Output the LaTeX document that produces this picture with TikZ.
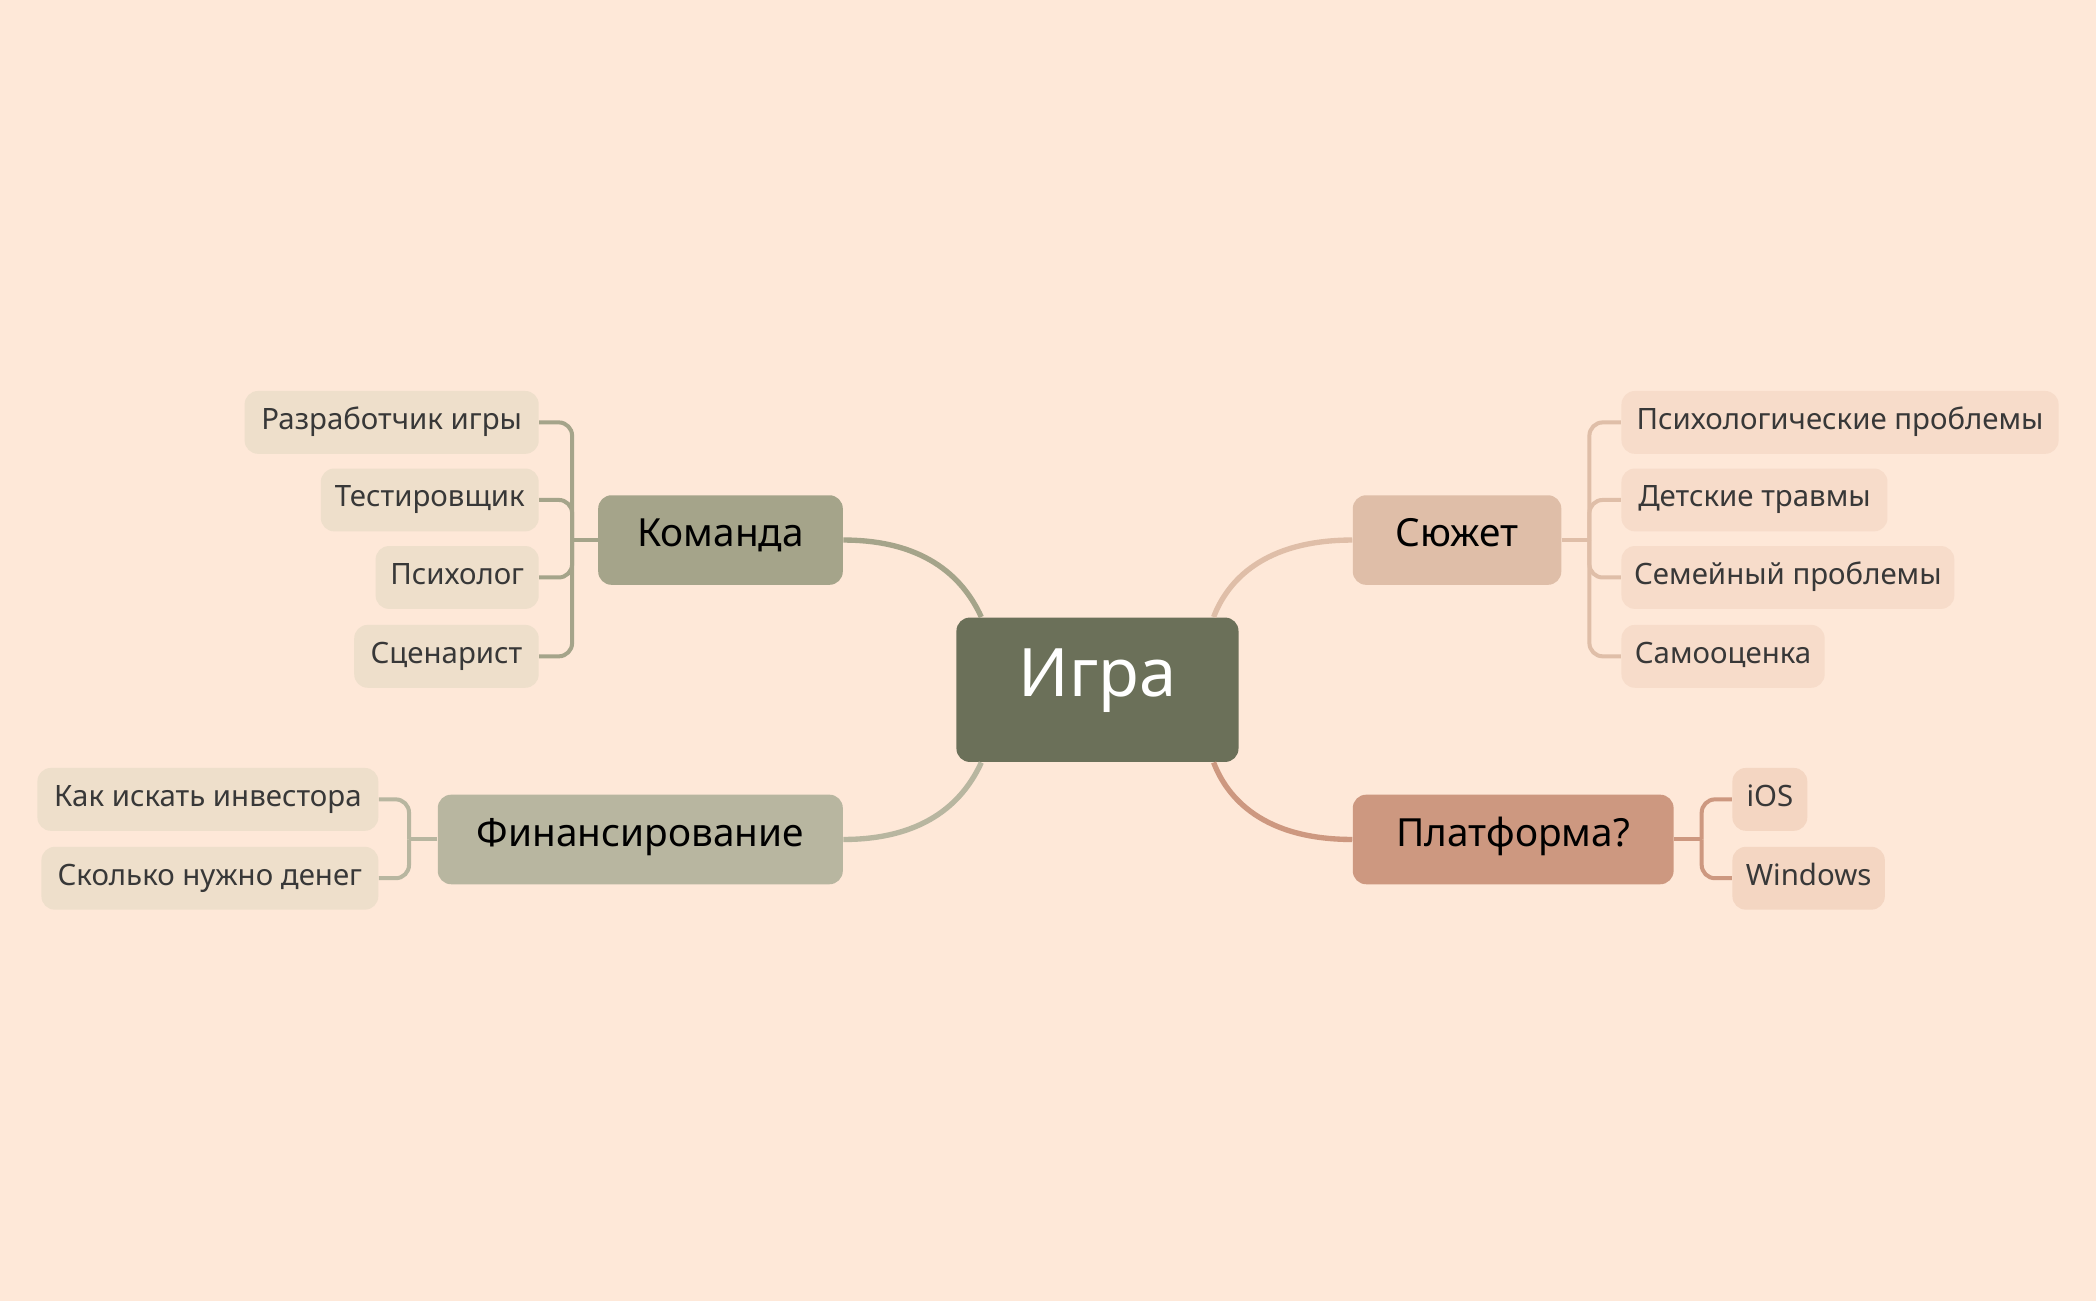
\documentclass[tikz,border=0pt]{standalone}
\usepackage{fontspec}
\setmainfont{Noto Sans}
\begin{document}
\begin{tikzpicture}[x=0.5pt,y=-0.5pt,
 box/.style={rounded corners=5pt,inner sep=0pt,text height=0.72em,text depth=0.2em},
 leaf/.style={box,minimum height=23.5pt,font=\fontsize{11}{13}\selectfont,text=black!78},
 br/.style={box,minimum height=33.5pt,font=\fontsize{14.5}{17}\selectfont\bfseries},
 con/.style={line width=2pt},
 bk/.style={line width=1.5pt,rounded corners=5pt}]
\definecolor{bg}{HTML}{FEE8D8}
\definecolor{cI}{HTML}{6B7059}
\definecolor{cK}{HTML}{A5A48A}
\definecolor{cF}{HTML}{B8B6A0}
\definecolor{cS}{HTML}{DFBEA8}
\definecolor{cP}{HTML}{CD9880}
\definecolor{lK}{HTML}{EEDFCB}
\definecolor{lS}{HTML}{F7DCCA}
\definecolor{lP}{HTML}{F4D6C2}
\fill[bg] (0,0) rectangle (1568,973);
\useasboundingbox (0,0) rectangle (1568,973);
\node[box,fill=cI,minimum width=105.5pt,minimum height=54pt,text=white,font=\fontsize{25}{28}\selectfont\bfseries] (I) at (821,516) {Игра};
\node[br,fill=cK,minimum width=91.5pt] (K) at (539,404) {Команда};
\node[br,fill=cF,minimum width=151.5pt] (F) at (479,628) {Финансирование};
\node[br,fill=cS,minimum width=78pt] (S) at (1090,404) {Сюжет};
\node[br,fill=cP,minimum width=120pt] (P) at (1132,628) {Платформа?};
% leaves
\node[leaf,fill=lK,minimum width=110pt] (K1) at (293,316) {Разработчик игры};
\node[leaf,fill=lK,minimum width=81.5pt] (K2) at (321.5,374) {Тестировщик};
\node[leaf,fill=lK,minimum width=61pt] (K3) at (342,432) {Психолог};
\node[leaf,fill=lK,minimum width=69pt] (K4) at (334,491) {Сценарист};
\node[leaf,fill=lK,minimum width=127.5pt] (F1) at (155.5,598) {Как искать инвестора};
\node[leaf,fill=lK,minimum width=126pt] (F2) at (157,657) {Сколько нужно денег};
\node[leaf,fill=lS,minimum width=163.5pt] (S1) at (1376.5,316) {Психологические проблемы};
\node[leaf,fill=lS,minimum width=99.5pt] (S2) at (1312.5,374) {Детские травмы};
\node[leaf,fill=lS,minimum width=124.5pt] (S3) at (1337.5,432) {Семейный проблемы};
\node[leaf,fill=lS,minimum width=76pt] (S4) at (1289,491) {Самооценка};
\node[leaf,fill=lP,minimum width=28pt] (P1) at (1324,598) {iOS};
\node[leaf,fill=lP,minimum width=57pt] (P2) at (1353,657) {Windows};
% main connectors
\draw[con,cK] (K.east) .. controls (695,404) and (722,435) .. ([xshift=9.5pt]I.north west);
\draw[con,cF] (F.east) .. controls (695,628) and (722,597) .. ([xshift=9.5pt]I.south west);
\draw[con,cS] (S.west) .. controls (945,404) and (918,435) .. ([xshift=-9.5pt]I.north east);
\draw[con,cP] (P.west) .. controls (945,628) and (918,597) .. ([xshift=-9.5pt]I.south east);
% brackets
\coordinate (kb) at (428,404);
\draw[bk,cK] (K.west) -- (kb);
\foreach \n in {K1,K2,K3,K4} \draw[bk,cK] (\n.east) -| (kb);
\coordinate (fb) at (306,628);
\draw[bk,cF] (F.west) -- (fb);
\foreach \n in {F1,F2} \draw[bk,cF] (\n.east) -| (fb);
\coordinate (sb) at (1189,404);
\draw[bk,cS] (S.east) -- (sb);
\foreach \n in {S1,S2,S3,S4} \draw[bk,cS] (\n.west) -| (sb);
\coordinate (pb) at (1273,628);
\draw[bk,cP] (P.east) -- (pb);
\foreach \n in {P1,P2} \draw[bk,cP] (\n.west) -| (pb);
\end{tikzpicture}
\end{document}
